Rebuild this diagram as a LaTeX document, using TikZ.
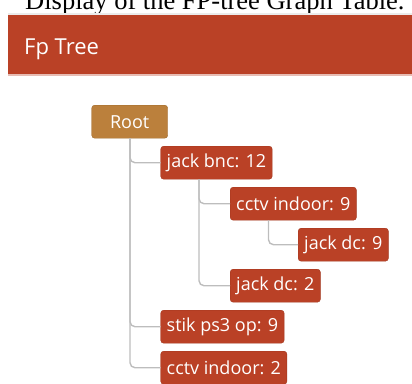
\documentclass[tikz,border=0pt]{standalone}
\usepackage{fontspec}
\setmainfont{Open Sans}
\newfontfamily\captionfont{Liberation Serif}
\usepackage{tikz}
\usetikzlibrary{positioning}
\usepackage{xcolor}
\definecolor{rust}{HTML}{BA4126}
\definecolor{rustdark}{HTML}{A3381F}
\definecolor{ochre}{HTML}{BB803C}
\definecolor{ochredark}{HTML}{9E6A2D}
\definecolor{branch}{HTML}{BDBDBD}

\begin{document}
\begin{tikzpicture}[x=1pt,y=-1pt,
  item/.style={draw=rustdark,fill=rust,text=white,rounded corners=3pt,
    anchor=north west,minimum height=33pt,inner xsep=6pt,
    font=\fontsize{18}{20}\selectfont},
  rootitem/.style={item,draw=ochredark,fill=ochre,minimum width=76pt},
  link/.style={branch,line width=1.4pt,rounded corners=5pt}]
\useasboundingbox (0,0) rectangle (412,383);
\clip (0,0) rectangle (412,383);
% caption line and panel header
\node[anchor=base west,inner sep=0pt,font=\captionfont\fontsize{26.5}{30}\selectfont] (cap) at (25,9) {Display of the FP-tree Graph Table.};
\fill[black!8] (8,12.5) rectangle (412,15);
\fill[rust] (8,15) rectangle (412,74);
\fill[rust!35] (8,74) rectangle (412,75.5);
\node[anchor=base west,inner sep=0pt,text=white,font=\fontsize{22}{26}\selectfont] (title) at (24,54) {Fp Tree};

% tree items
\node[rootitem] (root) at (91.5,105) {Root};
\node[item] (bnc) at (160.5,146) {jack bnc: 12};
\node[item] (cctvA) at (230,187) {cctv indoor: 9};
\node[item] (dcA) at (298,228) {jack dc: 9};
\node[item] (dcB) at (230,269) {jack dc: 2};
\node[item] (ps3) at (160.5,310) {stik ps3 op: 9};
\node[item] (cctvB) at (160.5,351) {cctv indoor: 2};

% branches
\foreach \p/\c in {root/bnc,root/ps3,root/cctvB,bnc/cctvA,bnc/dcB,cctvA/dcA}
  \draw[link] ([xshift=38.5pt]\p.south west) |- (\c.west);
\end{tikzpicture}
\end{document}
